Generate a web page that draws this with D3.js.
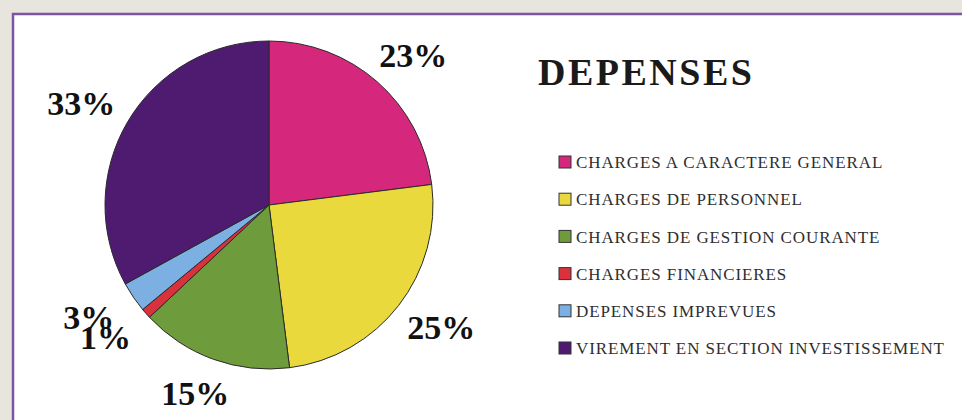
<!DOCTYPE html>
<html>
<head>
<meta charset="utf-8">
<script src="https://cdn.jsdelivr.net/npm/d3@7"></script>
<style>
  body { margin: 0; background: #e8e5de; }
  svg { display: block; }
</style>
</head>
<body>
<div id="chart"></div>
<script>
// data (DEPENSES)
const categories = [
    "CHARGES A CARACTERE GENERAL",
    "CHARGES DE PERSONNEL",
    "CHARGES DE GESTION COURANTE",
    "CHARGES FINANCIERES",
    "DEPENSES IMPREVUES",
    "VIREMENT EN SECTION INVESTISSEMENT"
];
const values = [23, 25, 15, 1, 3, 33];
const colors = ["#d5287d", "#ead93c", "#6e9c3c", "#d9323c", "#7cb0e2", "#4f1b70"];
const title = "DEPENSES";

const width = 962;
const height = 420;

const svg = d3.select("#chart").append("svg")
    .attr("width", width)
    .attr("height", height);

// white panel with purple frame
svg.append("rect")
    .attr("x", 13)
    .attr("y", 14)
    .attr("width", width)
    .attr("height", height)
    .attr("fill", "#fff")
    .attr("stroke", "#7b55a3")
    .attr("stroke-width", 2.5);

const cx = 269, cy = 205, r = 164;

const pie = d3.pie().sort(null).value(d => d);
const arcs = pie(values);
const arc = d3.arc().innerRadius(0).outerRadius(r);

// labels sit outside the slices, a bit further out sideways than up/down
const labelRx = 218, labelRy = 200;
function labelPos(d) {
    const a = (d.startAngle + d.endAngle) / 2;
    return [labelRx * Math.sin(a), -labelRy * Math.cos(a)];
}

const g = svg.append("g").attr("transform", `translate(${cx}, ${cy})`);

g.selectAll("path")
    .data(arcs)
    .enter().append("path")
    .attr("d", arc)
    .attr("fill", (d, i) => colors[i])
    .attr("stroke", "#2a2a2a")
    .attr("stroke-width", 1);

g.selectAll("text")
    .data(arcs)
    .enter().append("text")
    .attr("transform", d => `translate(${labelPos(d)})`)
    .attr("text-anchor", "middle")
    .attr("dy", "0.35em")
    .style("font-family", "'Liberation Serif', 'DejaVu Serif', serif")
    .style("font-size", "34px")
    .style("font-weight", "bold")
    .style("fill", "#111")
    .text(d => d.data + "%");

// title
svg.append("text")
    .attr("x", 538)
    .attr("y", 85)
    .style("font-family", "'Liberation Serif', 'DejaVu Serif', serif")
    .style("font-size", "38px")
    .style("font-weight", "bold")
    .style("letter-spacing", "2.5px")
    .style("fill", "#1a1a1a")
    .text(title);

// legend
const legendY = d3.scalePoint()
    .domain(categories)
    .range([162, 348]);

const legend = svg.selectAll(".legend")
    .data(categories)
    .enter().append("g")
    .attr("class", "legend")
    .attr("transform", d => `translate(559, ${legendY(d)})`);

legend.append("rect")
    .attr("x", 0)
    .attr("y", -6)
    .attr("width", 12)
    .attr("height", 12)
    .attr("fill", (d, i) => colors[i])
    .attr("stroke", "#333")
    .attr("stroke-width", 1);

legend.append("text")
    .attr("x", 17)
    .attr("dy", "0.36em")
    .style("font-family", "'Liberation Serif', 'DejaVu Serif', serif")
    .style("font-size", "17px")
    .style("letter-spacing", "0.9px")
    .style("fill", "#2e2e2e")
    .text(d => d);
</script>
</body>
</html>
